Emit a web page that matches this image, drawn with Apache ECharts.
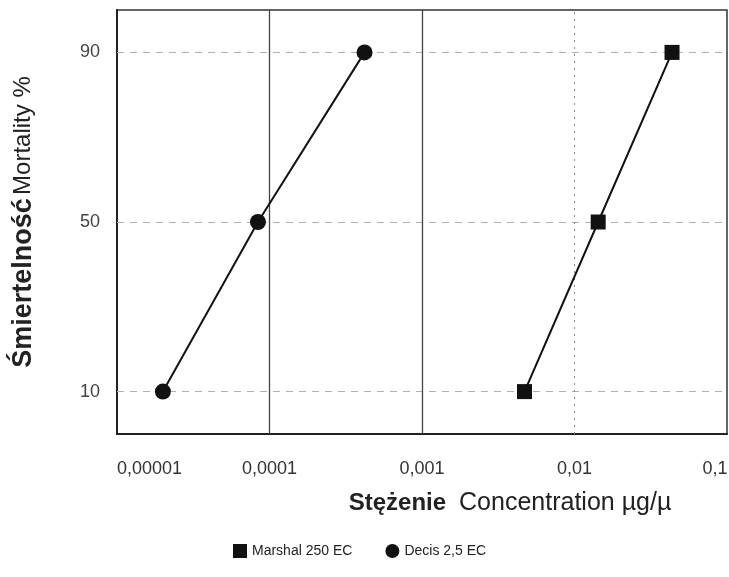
<!DOCTYPE html>
<html>
<head>
<meta charset="utf-8">
<script src="https://cdn.jsdelivr.net/npm/echarts@6/dist/echarts.min.js"></script>
<style>
  html, body { margin: 0; padding: 0; background: #ffffff; }
  #chart { width: 729px; height: 577px; }
</style>
</head>
<body>
<div id="chart"></div>
<script>
// mortality levels (probit-spaced, equal steps)
const mortality = [10, 50, 90];
// LC values, µg/µl
const marshalConc = [0.0047, 0.0143, 0.0436];
const decisConc = [0.00002, 0.000084, 0.00042];
const xTickLabels = ["0,00001", "0,0001", "0,001", "0,01", "0,1"];
const yTickValues = [10, 50, 90];
const solidGuides = [0.0001, 0.001];
const dashedGuides = [0.01];

const font = "'Liberation Sans', Arial, sans-serif";
const yMin = 0;
const yMax = 100;

const toPairs = (xs, ys) => xs.map((x, i) => [x, ys[i]]);

// vertical guide from bottom to top of the plot
const vGuide = (v, style) => [
  { coord: [v, yMin], lineStyle: style },
  { coord: [v, yMax] }
];

const guideLines = [
  ...yTickValues.map(v => ({ yAxis: v, lineStyle: { color: "#b0b0b0", type: [7, 6], width: 1 } })),
  ...solidGuides.map(v => vGuide(v, { color: "#444", type: "solid", width: 1.3 })),
  ...dashedGuides.map(v => vGuide(v, { color: "#888", type: [2, 5], width: 1 }))
];

const chart = echarts.init(document.getElementById("chart"));
const option = {
  animation: false,
  grid: {
    left: 117,
    right: 2,
    top: 10,
    bottom: 143,
    containLabel: false,
    outerBoundsMode: "none",
    show: true,
    borderColor: "#333",
    borderWidth: 1.5
  },
  legend: {
    top: 539,
    left: 228,
    itemGap: 33,
    itemWidth: 14,
    itemHeight: 14,
    data: [
      { name: "Marshal 250 EC", icon: "rect" },
      { name: "Decis 2,5 EC", icon: "circle" }
    ],
    textStyle: { fontFamily: font, fontSize: 14, color: "#222", padding: [10, 0, 0, 0] }
  },
  xAxis: {
    type: "log",
    logBase: 10,
    min: 0.00001,
    max: 0.1,
    name: "{b|Stężenie}{n|Concentration µg/µ}",
    nameLocation: "middle",
    nameGap: 57,
    nameTextStyle: {
      padding: [0, 0, 0, 176],
      rich: {
        b: { fontFamily: font, fontWeight: "bold", fontSize: 24, color: "#222", padding: [0, 13, 0, 0] },
        n: { fontFamily: font, fontSize: 25, color: "#222" }
      }
    },
    axisLine: { show: true, lineStyle: { color: "#222", width: 2 } },
    axisTick: { show: false },
    splitLine: { show: false },
    axisLabel: {
      margin: 26,
      fontFamily: font,
      fontSize: 18,
      color: "#333",
      alignMinLabel: "left",
      formatter: (v, i) => i === xTickLabels.length - 1 ? "{last|" + xTickLabels[i] + "}" : xTickLabels[i],
      rich: {
        last: { fontFamily: font, fontSize: 18, color: "#333", padding: [0, 24, 0, 0] }
      }
    }
  },
  yAxis: {
    type: "value",
    min: yMin,
    max: yMax,
    name: "{b|Śmiertelność} {n|Mortality %}",
    nameLocation: "middle",
    nameGap: 80,
    nameRotate: 90,
    nameTextStyle: {
      rich: {
        b: { fontFamily: font, fontWeight: "bold", fontSize: 27, color: "#222" },
        n: { fontFamily: font, fontSize: 24, color: "#222" }
      }
    },
    axisLine: { show: true, lineStyle: { color: "#222", width: 2 } },
    axisTick: { show: false },
    splitLine: { show: false },
    axisLabel: {
      customValues: yTickValues,
      margin: 17,
      fontFamily: font,
      fontSize: 18,
      color: "#444"
    }
  },
  series: [
    {
      name: "Marshal 250 EC",
      type: "line",
      data: toPairs(marshalConc, mortality),
      symbol: "rect",
      symbolSize: 15,
      itemStyle: { color: "#111" },
      lineStyle: { color: "#111", width: 2 },
      markLine: {
        silent: true,
        z: 1,
        symbol: ["none", "none"],
        label: { show: false },
        data: guideLines
      },
      z: 3
    },
    {
      name: "Decis 2,5 EC",
      type: "line",
      data: toPairs(decisConc, mortality),
      symbol: "circle",
      symbolSize: 16,
      itemStyle: { color: "#111" },
      lineStyle: { color: "#111", width: 2 },
      z: 3
    }
  ]
};
chart.setOption(option);
</script>
</body>
</html>
